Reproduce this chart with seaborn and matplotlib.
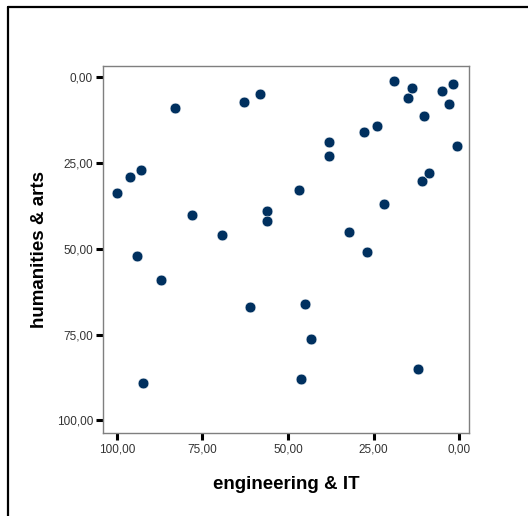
#!/usr/bin/env python3
import matplotlib
matplotlib.use("Agg")
import matplotlib.pyplot as plt
from matplotlib.lines import Line2D
from matplotlib.ticker import FuncFormatter
import seaborn as sns
import pandas as pd

# values (percentages)
engineering_it = [100.0, 96.1, 93.0, 94.1, 87.1, 92.2, 83.0, 78.1, 69.3, 62.8,
                  58.2, 61.1, 56.2, 56.2, 46.9, 45.0, 46.2, 43.3, 38.0, 38.0,
                  32.1, 27.9, 23.9, 26.9, 22.0, 19.1, 15.0, 13.8, 12.1, 10.9,
                  10.2, 8.9, 5.0, 3.0, 1.9, 0.8]
humanities_arts = [33.6, 29.0, 26.9, 52.0, 59.0, 89.0, 8.9, 40.1, 45.9, 7.1,
                   4.9, 66.9, 38.9, 41.8, 33.0, 66.0, 87.9, 76.2, 18.8, 22.9,
                   45.0, 15.9, 14.1, 50.8, 37.0, 1.0, 5.9, 3.0, 85.0, 30.1,
                   11.2, 27.8, 3.9, 7.7, 1.9, 19.9]
tick_values = [0, 25, 50, 75, 100]

df = pd.DataFrame({"engineering & IT": engineering_it,
                   "humanities & arts": humanities_arts})

sns.set_style("white")
plt.rcParams["font.family"] = ["Liberation Sans", "DejaVu Sans"]

fig = plt.figure(figsize=(5.28, 5.16), dpi=100)
ax = fig.add_axes([0.1945, 0.1603, 0.6943, 0.7118])

sns.scatterplot(data=df, x="engineering & IT", y="humanities & arts", ax=ax,
                color="#00305f", s=60, edgecolor="white", linewidth=0.4)

# both axes run "backwards" like the SPSS output
ax.set_xlim(104.1, -2.9)
ax.set_ylim(103.8, -3.3)
ax.set_xticks(tick_values)
ax.set_yticks(tick_values)
comma = FuncFormatter(lambda v, p: f"{v:.2f}".replace(".", ","))
ax.xaxis.set_major_formatter(comma)
ax.yaxis.set_major_formatter(comma)
ax.tick_params(axis="both", direction="out", length=5, width=2.2, color="black",
               labelsize=8.5, labelcolor="#333333", pad=2,
               bottom=True, left=True)

for s in ax.spines.values():
    s.set_color("#7f7f7f")
    s.set_linewidth(1.0)

ax.set_xlabel("engineering & IT", fontsize=13.5, fontweight="bold",
              color="black", labelpad=15)
ax.set_ylabel("humanities & arts", fontsize=13.5, fontweight="bold",
              color="black", labelpad=6)

# outer frame of the output viewer (cropped on right/bottom)
x0, y0 = 7.5 / 528, 1 - 6.5 / 516
fig.add_artist(Line2D([x0, 1.0], [y0, y0], color="black", lw=1.6))
fig.add_artist(Line2D([x0, x0], [0.0, y0], color="black", lw=1.6))

fig.savefig("out.png", dpi=100)
